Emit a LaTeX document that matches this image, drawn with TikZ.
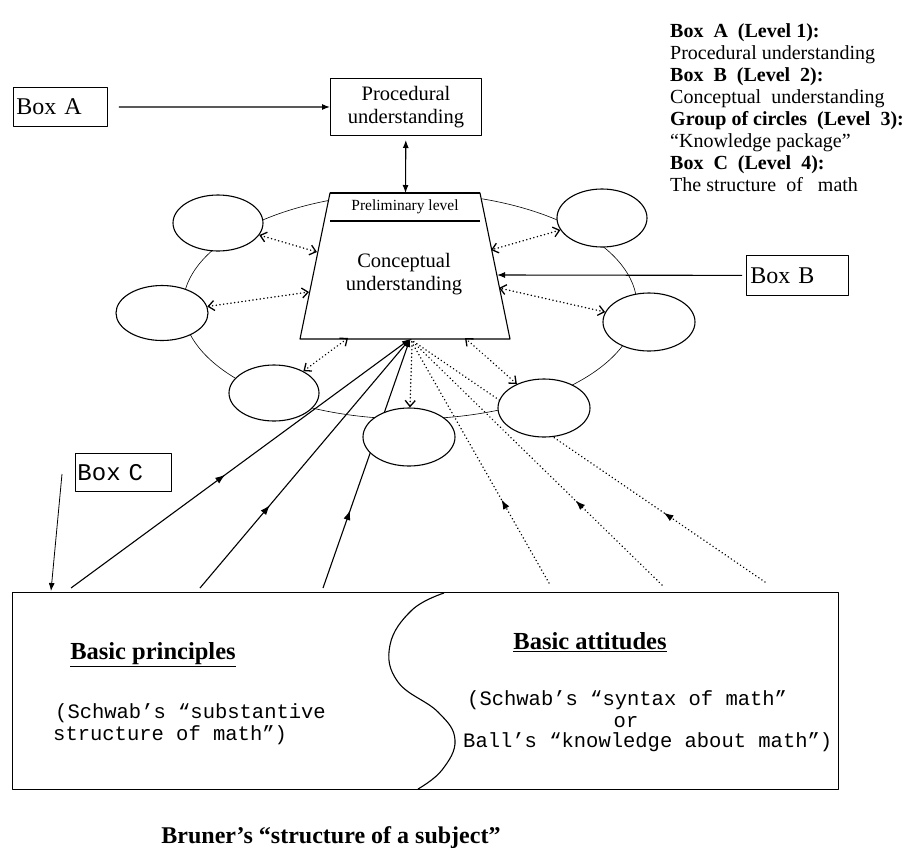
\documentclass[tikz,border=0pt]{standalone}
\usepackage{fontspec}
\setmainfont{Liberation Serif}
\setmonofont{Liberation Mono}
\usetikzlibrary{arrows.meta,decorations.markings,shapes.geometric}

\begin{document}
\begin{tikzpicture}[x=1pt,y=-1pt,line join=round,
  legend/.style={anchor=base west,inner sep=0pt,font=\fontsize{20}{22}\selectfont},
  legendb/.style={anchor=base west,inner sep=0pt,font=\fontsize{20}{22}\selectfont\bfseries},
  tag/.style={draw,line width=0.9pt,anchor=north west,inner ysep=0pt,align=left},
  blob/.style={draw,ellipse,fill=white,line width=1.1pt,inner sep=0pt},
  link/.style={line width=1.1pt},
  tip/.style={-{Latex[length=8pt,width=6pt]}},
  dotlink/.style={line width=1.6pt,dash pattern=on 0.1pt off 3.6pt,line cap=round},
  barb/.style={Straight Barb[length=6pt,width=10pt,line width=1.3pt]},
  both/.style={{Straight Barb[length=6pt,width=10pt,line width=1.3pt]}-{Straight Barb[length=6pt,width=10pt,line width=1.3pt]}},
  midtip/.style={postaction={decorate},decoration={markings,mark=at position #1 with {\arrow{Latex[length=10pt,width=7pt]}}}},
  courier/.style={anchor=base west,inner sep=0pt,font=\ttfamily\fontsize{20.5}{22}\selectfont},
  heading/.style={inner sep=0pt,font=\fontsize{24.5}{28}\selectfont\bfseries}]
\useasboundingbox (0,0) rectangle (916,847);

% ring joining the knowledge packages
\node[draw,ellipse,line width=0.6pt,minimum width=454pt,minimum height=226pt,inner sep=0pt] (ring) at (410,306) {};

% focal point under the conceptual box and feet on the base
\coordinate (fp) at (410,339);
\coordinate (s1) at (71,588);
\coordinate (s2) at (200,588);
\coordinate (s3) at (323,588);
\coordinate (d1) at (549,583);
\coordinate (d2) at (662,585);
\coordinate (d3) at (765,582);

% principles (solid) and attitudes (dotted) feeding the conceptual level
\draw[link,tip,midtip=0.455] (s1) -- (fp);
\draw[link,tip,midtip=0.333] (s2) -- (fp);
\draw[link,tip,midtip=0.313] (s3) -- (fp);
\draw[dotlink,midtip=0.343] (d1) -- (fp);
\draw[dotlink,midtip=0.344] (d2) -- (fp);
\draw[dotlink,midtip=0.286] (d3) -- (fp);

% conceptual understanding (trapezoid)
\coordinate (tl) at (330,193);
\coordinate (tr) at (480,193);
\coordinate (br) at (510,339);
\coordinate (bl) at (300,339);
\filldraw[fill=white,line width=1.1pt] (tl) -- (tr) -- (br) -- (bl) -- cycle;
\draw[line width=2pt] (tl) -- (tr);
\coordinate (sepl) at (330,221);
\coordinate (sepr) at (480,221);
\draw[line width=1.1pt] (sepl) -- (sepr);
\node[inner sep=0pt,font=\fontsize{15.5}{17}\selectfont] (prelim) at (405,207) {Preliminary level};
\node[inner sep=0pt,align=center,font=\fontsize{20.5}{23.5}\selectfont] (concept) at (404,274) {Conceptual\\understanding};

% knowledge packages
\node[blob,minimum width=90pt,minimum height=56pt] (e1) at (218,223) {};
\node[blob,minimum width=92pt,minimum height=55pt] (e2) at (162,313) {};
\node[blob,minimum width=90pt,minimum height=56pt] (e3) at (274,393) {};
\node[blob,minimum width=92pt,minimum height=58pt] (e4) at (409,437) {};
\node[blob,minimum width=92pt,minimum height=58pt] (e5) at (544,408) {};
\node[blob,minimum width=92pt,minimum height=58pt] (e6) at (649,322) {};
\node[blob,minimum width=90pt,minimum height=58pt] (e7) at (602,218) {};

% two-way links between packages and the conceptual level
\coordinate (p1) at (317,252);
\coordinate (p2) at (309,292);
\coordinate (p3) at (348,338);
\coordinate (p4) at (412,346);
\coordinate (p5) at (491,250);
\coordinate (p6) at (499,288);
\coordinate (p7) at (465,338);
\draw[dotlink,both] (e1) -- (p1);
\draw[dotlink,both] (e2) -- (p2);
\draw[dotlink,both] (e3) -- (p3);
\draw[dotlink,-{Straight Barb[length=6pt,width=10pt,line width=1.3pt]}] (p4) -- (e4);
\draw[dotlink,both] (e7) -- (p5);
\draw[dotlink,both] (e6) -- (p6);
\draw[dotlink,both] (e5) -- (p7);

% procedural level
\node[draw,line width=1pt,anchor=north west,minimum width=151pt,minimum height=57pt,inner sep=0pt,align=center,font=\fontsize{20.5}{23}\selectfont] (proc) at (330,78) {Procedural\\understanding};
\coordinate (topmid) at (405.5,193);
\draw[link,{Latex[length=8pt,width=6pt]}-{Latex[length=8pt,width=6pt]},shorten <=4pt] (proc) -- (topmid);

% box labels
\node[tag,minimum width=94pt,minimum height=39pt,text width=88pt,inner xsep=3pt,font=\fontsize{24}{28}\selectfont] (boxA) at (13,87) {Box A};
\draw[link,tip,shorten <=11pt] (boxA) -- (proc);

\node[tag,minimum width=102pt,minimum height=40pt,text width=94pt,inner xsep=4pt,font=\fontsize{24}{28}\selectfont] (boxB) at (746,255) {Box B};
\coordinate (pB) at (497,275);
\draw[link,tip,shorten <=4pt] (boxB) -- (pB);

\node[tag,minimum width=96pt,minimum height=38pt,text width=92pt,inner xsep=2pt,font=\ttfamily\fontsize{24}{28}\selectfont] (boxC) at (75,453) {Box C};
\coordinate (cstart) at (62,474);
\coordinate (cend) at (51,591);
\draw[line width=0.8pt,tip] (cstart) -- (cend);

% structure of the subject
\node[draw,line width=1.2pt,anchor=north west,minimum width=826pt,minimum height=197pt,inner sep=0pt] (base) at (12,592) {};
\draw[line width=1.1pt] plot[smooth,tension=0.7] coordinates {(444,593) (412,610) (390,645) (398,682) (438,712) (455,740) (442,770) (418,789)};

\node[heading] (bp) at (153,655) {\underline{Basic principles}};
\node[heading] (ba) at (590,642) {\underline{Basic attitudes}};
\node[courier] (sub1) at (55,718) {(Schwab’s “substantive};
\node[courier] (sub2) at (53,740) {structure of math”)};
\node[courier] (syn1) at (467,705) {(Schwab’s “syntax of math”};
\node[courier,anchor=base] (syn2) at (626,727) {or};
\node[courier] (syn3) at (463,747) {Ball’s “knowledge about math”)};

\node[anchor=base,inner sep=0pt,font=\fontsize{24}{28}\selectfont\bfseries] (bruner) at (331,843) {Bruner’s “structure of a subject”};

% legend
\node[legendb] (leg1) at (670,37) {Box~~A~~(Level 1):};
\node[legend]  (leg2) at (670,59) {Procedural understanding};
\node[legendb] (leg3) at (670,81) {Box~~B~~(Level~~2):};
\node[legend]  (leg4) at (670,103) {Conceptual~~understanding};
\node[legendb] (leg5) at (670,125) {Group of circles~~(Level~~3):};
\node[legend]  (leg6) at (670,147) {“Knowledge package”};
\node[legendb] (leg7) at (670,169) {Box~~C~~(Level~~4):};
\node[legend]  (leg8) at (670,191) {The structure~~of~~~math};
\end{tikzpicture}
\end{document}
